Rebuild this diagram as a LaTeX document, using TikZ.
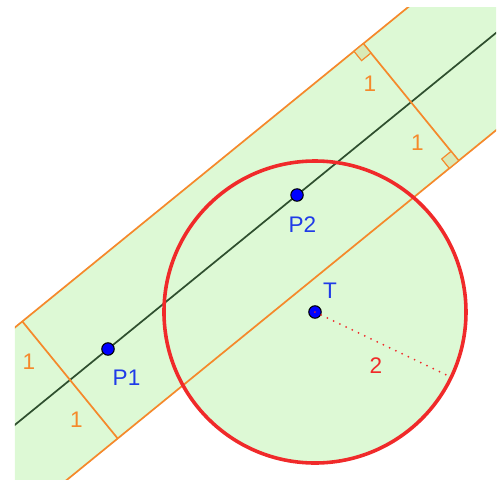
\documentclass[tikz,border=0pt]{standalone}
\usepackage{fontspec}
\usepackage{xcolor}
\usepackage{tikz}
\usetikzlibrary{calc}
\newfontfamily\ggbfont{Liberation Sans}
\definecolor{BandFill}{HTML}{DDF9D5}
\definecolor{BandEdge}{HTML}{F5892B}
\definecolor{AxisLine}{HTML}{2F4F2F}
\definecolor{DiscRed}{HTML}{F02A2A}
\definecolor{PointBlue}{HTML}{0000FF}
\definecolor{LabelBlue}{HTML}{1F3BE8}
\definecolor{MarkFill}{HTML}{D9E9B6}
\newcommand{\bandangle}{39.17}

\begin{document}
\begin{tikzpicture}[
    edge/.style={
      draw=BandEdge,
      line width=1.3pt
    },
    axis/.style={
      draw=AxisLine,
      line width=1.3pt
    },
    disc/.style={
      draw=DiscRed,
      line width=2.7pt
    },
    rline/.style={
      draw=DiscRed,
      line width=1.5pt,
      line cap=round,
      dash pattern=on 0pt off 5.2pt
    },
    rightmark/.style={
      draw=BandEdge,
      fill=MarkFill,
      line width=0.9pt
    },
    pt/.style={
      circle,
      fill=PointBlue,
      draw=black,
      line width=0.8pt,
      inner sep=0pt,
      minimum size=3.3mm
    },
    ptlabel/.style={
      text=LabelBlue,
      inner sep=0pt,
      font=\ggbfont\fontsize{17}{17}\selectfont
    },
    unitlabel/.style={
      midway,
      xshift=-0.46cm,
      yshift=-0.29cm,
      text=BandEdge,
      inner sep=0pt,
      font=\ggbfont\fontsize{17}{17}\selectfont
    }
  ]
    \useasboundingbox (0,0) rectangle (13.351,12.689);

    % points of the construction
    \coordinate (P1) at (2.861,3.444);
    \coordinate (P2) at (7.868,7.523);
    \coordinate (T) at (8.344,4.424);
    \coordinate (W) at ($(P1)!-1!(P2)$);
    \coordinate (E) at ($(P1)!2.5!(P2)$);
    \coordinate (Wup) at ($(W)!2cm!90:(E)$);
    \coordinate (Wlo) at ($(W)!2cm!-90:(E)$);
    \coordinate (Eup) at ($(E)!2cm!-90:(W)$);
    \coordinate (Elo) at ($(E)!2cm!90:(W)$);
    \coordinate (C1) at ($(P1)!-0.201!(P2)$);
    \coordinate (C2) at ($(P1)!1.603!(P2)$);
    \coordinate (U1) at ($(C1)!2cm!90:(E)$);
    \coordinate (L1) at ($(C1)!2cm!-90:(E)$);
    \coordinate (U2) at ($(C2)!2cm!90:(E)$);
    \coordinate (L2) at ($(C2)!2cm!-90:(E)$);
    \coordinate (Rend) at ($(T)+(-25.6:4)$);

    \begin{scope}
      \clip (0.397,0) rectangle (13.139,12.477);
      \fill[BandFill] (T) circle (4);
      \fill[BandFill] (Wup) -- (Eup) -- (Elo) -- (Wlo) -- cycle;
      \draw[edge] (Wup) -- (Eup);
      \draw[edge] (Wlo) -- (Elo);
      \draw[axis] (W) -- (E);

      % distance 1 on both sides
      \draw[edge] (U1) -- (C1) node[unitlabel] (oneA) {1} -- (L1) node[unitlabel] (oneB) {1};
      \draw[edge] (U2) -- (C2) node[unitlabel] (oneC) {1} -- (L2) node[unitlabel] (oneD) {1};
      \draw[rightmark, shift={(U2)}, rotate=\bandangle] (0,0) rectangle (-0.32,-0.32);
      \draw[rightmark, shift={(L2)}, rotate=\bandangle] (0,0) rectangle (-0.32,0.32);
    \end{scope}

    \draw[disc] (T) circle (4);

    \node[pt] (P1pt) at (P1) {};
    \node[pt] (P2pt) at (P2) {};
    \node[pt] (Tpt) at (T) {};
    \draw[rline] (Tpt.center) -- (Rend);

    \node[ptlabel] (P1lbl) at (3.351,2.689) {P1};
    \node[ptlabel] (P2lbl) at (8.013,6.728) {P2};
    \node[ptlabel] (Tlbl) at (8.742,4.980) {T};
    \node[ptlabel, text=DiscRed] (twolbl) at (9.960,3.007) {2};
  \end{tikzpicture}
\end{document}
